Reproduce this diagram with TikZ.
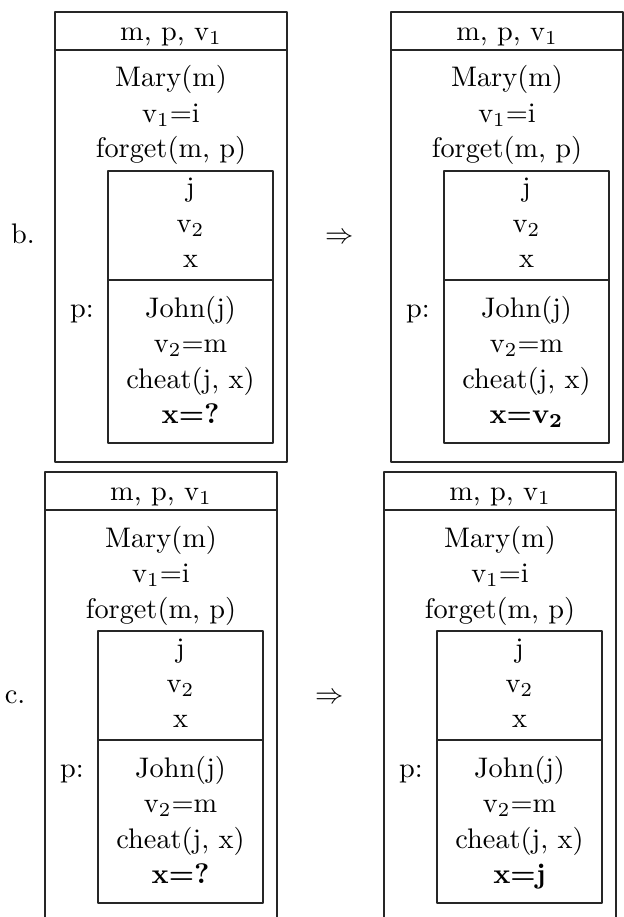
\documentclass[tikz,border=0pt]{standalone}
\usepackage{tikz}
\usetikzlibrary{positioning}
\tikzset{
    every picture/.style={line cap=round,line join=round},
    drsline/.style={draw=black!85,line width=0.6pt},
    drstext/.style={anchor=base,inner sep=0pt,outer sep=0pt,font=\normalsize,text=black}
}

\begin{document}
\begin{tikzpicture}[x=0.3534pt,y=-0.3534pt]
  \useasboundingbox (0,0) rectangle (624,917);
  \foreach \px/\py/\nm/\lx/\lab/\fin in {
      55/12/b/-32/{b.}/{x=?},
      391/12/bb/-51/{$\Rightarrow$}/{x=v\textsubscript{2}},
      45/472/c/-30/{c.}/{x=?},
      384/472/cc/-54/{$\Rightarrow$}/{x=j}} {
    \begin{scope}[shift={(\px,\py)}]
      % outer box and its universe
      \coordinate (nw\nm) at (0,0);
      \coordinate (se\nm) at (232,450);
      \draw[drsline] (nw\nm) rectangle (se\nm);
      \draw[drsline] (0,38) -- (232,38);
      \node[drstext] (hd\nm) at (116,28.5) {m, p, v\textsubscript{1}};
      \node[drstext] (lab\nm) at (\lx,231) {\lab};
      \foreach \i/\y/\t in {1/75/{Mary(m)},2/110.5/{v\textsubscript{1}=i},3/146/{forget(m, p)}}
        \node[drstext] (cd\nm\i) at (116,\y) {\t};
      % embedded box p
      \coordinate (pnw\nm) at (53,159);
      \coordinate (pse\nm) at (218,431);
      \draw[drsline] (pnw\nm) rectangle (pse\nm);
      \draw[drsline] (53,268) -- (218,268);
      \node[drstext] (p\nm) at (27,305) {p:};
      \foreach \i/\y/\t in {1/185/j,2/220/{v\textsubscript{2}},3/255/x}
        \node[drstext] (ref\nm\i) at (135.5,\y) {\t};
      \foreach \i/\y/\t in {1/305/{John(j)},2/340.5/{v\textsubscript{2}=m},3/376/{cheat(j, x)},4/411/{\textbf{\fin}}}
        \node[drstext] (pc\nm\i) at (135.5,\y) {\t};
    \end{scope}
  }
\end{tikzpicture}
\end{document}
